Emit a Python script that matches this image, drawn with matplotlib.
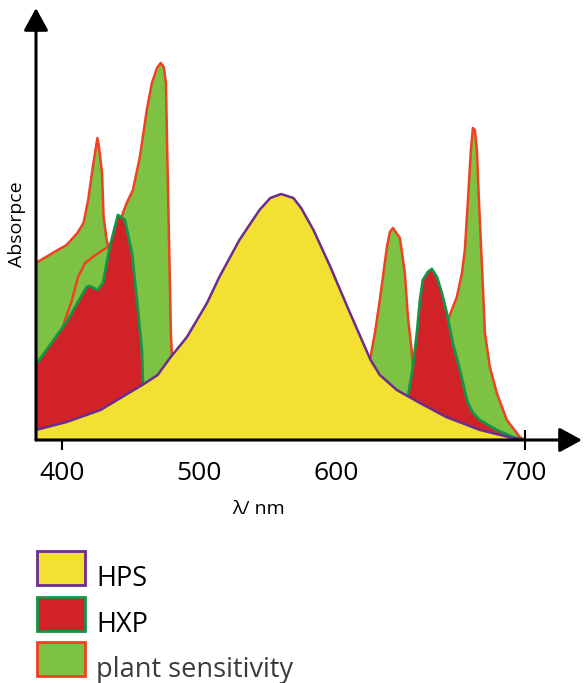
import numpy as np
import matplotlib.pyplot as plt
from matplotlib.patches import Rectangle

plt.rcParams['font.family'] = ['Open Sans', 'DejaVu Sans']

# wavelength (nm) / absorbance (arbitrary units)
hps_x = [383, 403, 425, 452, 462, 470, 481, 494, 502, 515, 528, 535, 542, 550,
         555, 563, 574, 585, 600, 606, 617, 632, 649, 671, 692, 700]
hps_y = [10, 18, 30, 55, 65, 82, 103, 137, 163, 200, 230, 242, 246, 242,
         232, 210, 173, 133, 80, 65, 50, 37, 23, 10, 2, 0]

hxp_x = [383, 403, 416, 418, 423, 426.6, 431, 436.3, 440.8, 445.4, 448.6, 451.8,
         452.5, 457, 463.5, 612.5, 619, 624.2, 627.4, 630, 632, 633.9, 637.1,
         639.7, 643, 646.2, 649.4, 653.3, 657.9, 662.4, 666.3, 670.8, 681.8,
         692.2, 700]
hxp_y = [75, 118, 153, 154, 150, 157, 193, 225, 220, 187, 140, 90,
         57, 30, 0, 0, 20, 43, 73, 107, 140, 160, 168,
         171, 163, 147, 127, 97, 70, 40, 27, 20, 10,
         3, 0]

# plant sensitivity drawn as three overlapping lobes
plant_a_x = [383, 394, 403, 410, 414, 417, 420, 423, 424, 426, 427, 429, 430, 431, 432]
plant_a_y = [177, 187, 195, 207, 217, 240, 273, 302, 293, 267, 223, 200, 193, 100, 0]

plant_b_x = [383, 395.5, 402, 406.5, 410.4, 415, 420, 426.6, 430, 435.6, 439.5,
             442, 446, 450.5, 455, 458.3, 461.6, 464, 466, 467.4, 468, 469.3,
             470.6, 471.3, 474, 476.5]
plant_b_y = [40, 80, 120, 140, 163, 177, 183, 190, 193, 207, 227,
             237, 250, 283, 330, 357, 372, 377, 373, 357, 307, 207,
             107, 83, 40, 0]

plant_c_x = [593.1, 597, 599.6, 602.8, 606, 610.6, 612.5, 614.5, 619, 622.2,
             624.2, 626.8, 627.4, 632, 641.7, 650.1, 655.9, 659.2, 661.1, 663.1,
             665, 666.3, 667.6, 668.9, 670.2, 672.2, 674.1, 677.3, 681.8, 688.3,
             696.7, 700]
plant_c_y = [0, 40, 80, 107, 140, 193, 208, 212, 202, 167,
             123, 87, 73, 60, 80, 120, 143, 167, 190, 240,
             290, 312, 310, 290, 240, 173, 107, 73, 47, 20,
             3, 0]

tick_pos = [400, 700]
tick_lab = ['400', '700']
label_pos = [489, 578]
label_lab = ['500', '600']

yellow, purple = '#F2E032', '#6B2D8F'
red, dkgreen = '#D12228', '#139548'
green, orange = '#7DC243', '#EE4223'

fig = plt.figure(figsize=(5.84, 6.83), dpi=100)
ax = fig.add_axes([36/584, 243/683, 546/584, 432/683])
ax.set_xlim(383.2, 737)
ax.set_ylim(0, 432)

for px, py in [(plant_a_x, plant_a_y), (plant_b_x, plant_b_y), (plant_c_x, plant_c_y)]:
    ax.fill_between(px, py, 0, color=green, lw=0, zorder=1)
    ax.plot(px, py, color=orange, lw=1.8, zorder=1, solid_joinstyle='round')

ax.fill_between(hxp_x, hxp_y, 0, color=red, lw=0, zorder=2)
ax.plot(hxp_x, hxp_y, color=dkgreen, lw=2, zorder=2, solid_joinstyle='round')

ax.fill_between(hps_x, hps_y, 0, color=yellow, lw=0, zorder=3)
ax.plot(hps_x, hps_y, color=purple, lw=1.8, zorder=3, solid_joinstyle='round')

# axes as arrows
arr = dict(arrowstyle='-|>,head_length=0.55,head_width=0.3', mutation_scale=25,
           lw=2.2, color='black', shrinkA=0, shrinkB=0)
ax.annotate('', xy=(737, 0), xytext=(383.2, 0), arrowprops=arr,
            annotation_clip=False, zorder=10)
ax.annotate('', xy=(383.2, 432), xytext=(383.2, 0), arrowprops=arr,
            annotation_clip=False, zorder=10)

for s in ax.spines.values():
    s.set_visible(False)
ax.set_yticks([])
ax.set_xticks(tick_pos)
ax.set_xticklabels(tick_lab)
ax.set_xticks(label_pos, minor=True)
ax.set_xticklabels(label_lab, minor=True)
ax.tick_params(axis='x', which='major', direction='inout', length=14, width=1.5,
               pad=8, labelsize=19)
ax.tick_params(axis='x', which='minor', length=0, pad=15, labelsize=19)

fig.text(258/584, 1 - 509/683, 'λ/ nm', ha='center', va='center', fontsize=14)
fig.text(17/584, 1 - 224/683, 'Absorpce', ha='center', va='center',
         fontsize=14, rotation=90)

# legend boxes
leg = [('HPS', yellow, purple, 'black'),
       ('HXP', red, dkgreen, 'black'),
       ('plant sensitivity', green, orange, '#3b3b3b')]
for i, (name, fc, ec, tc) in enumerate(leg):
    top = 551 + 45.5 * i
    fig.add_artist(Rectangle((37/584, 1 - (top + 34)/683), 48/584, 34/683,
                             facecolor=fc, edgecolor=ec, lw=2,
                             transform=fig.transFigure))
    fig.text(96/584, 1 - (top + 35)/683, name, ha='left', va='baseline',
             fontsize=19.5, color=tc)

fig.savefig('out.png', dpi=100)
